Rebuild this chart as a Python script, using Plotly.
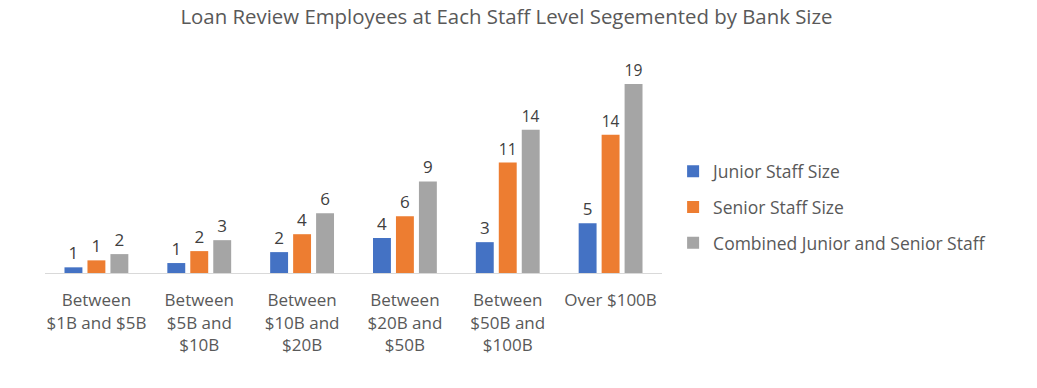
import plotly.graph_objects as go

categories = ["Between<br>$1B and $5B", "Between<br>$5B and<br>$10B", "Between<br>$10B and<br>$20B",
              "Between<br>$20B and<br>$50B", "Between<br>$50B and<br>$100B", "Over $100B"]
junior = [0.57, 1.0, 2.1, 3.52, 3.1, 5.0]
senior = [1.27, 2.2, 3.9, 5.7, 11.1, 13.9]
combined = [1.9, 3.3, 6.0, 9.2, 14.4, 19.0]
series_names = ["Junior Staff Size", "Senior Staff Size", "Combined Junior and Senior Staff"]
colors = ["#4472C4", "#ED7D31", "#A5A5A5"]

FONT = "Open Sans"
fig = go.Figure()
for i, (name, vals, col) in enumerate(zip(series_names, [junior, senior, combined], colors)):
    fig.add_trace(go.Bar(
        x=categories, y=vals, name=name, marker=dict(color=col, line=dict(width=0)),
        texttemplate="%{y:.0f}", textposition="outside", cliponaxis=False,
        textfont=dict(size=17, color="#404040", family=FONT),
        legendgroup=f"g{i}",
    ))

fig.update_layout(
    width=1037, height=388,
    margin=dict(l=45, r=375, t=74, b=115),
    paper_bgcolor="white", plot_bgcolor="white",
    barmode="group", bargap=0.33, bargroupgap=0.22,
    title=dict(text="Loan Review Employees at Each Staff Level Segemented by Bank Size",
               x=0.4884, xanchor="center", y=0.956, yanchor="middle",
               font=dict(size=20.4, color="#595959", family=FONT)),
    font=dict(family=FONT, color="#595959"),
    xaxis=dict(showline=True, linecolor="#D9D9D9", linewidth=1, ticks="",
               ticklabelstandoff=12,
               tickfont=dict(size=17, color="#595959", family=FONT), showgrid=False),
    yaxis=dict(range=[0, 20], visible=False, showgrid=False, zeroline=False),
    legend=dict(x=1.018, xanchor="left", y=0.33, yanchor="middle",
                font=dict(size=17.5, color="#595959", family=FONT),
                tracegroupgap=10, itemwidth=30, traceorder="grouped"),
    showlegend=True,
)
fig.write_html("out.html", config={"displayModeBar": False},
               post_script="document.body.style.margin='0';")
